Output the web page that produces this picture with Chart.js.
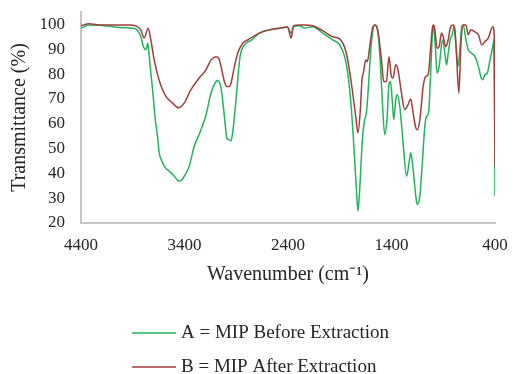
<!DOCTYPE html>
<html>
<head>
<meta charset="utf-8">
<script src="https://cdn.jsdelivr.net/npm/chart.js@4.4.1/dist/chart.umd.min.js"></script>
<style>
  html, body { margin: 0; padding: 0; background: #fff; }
  #wrap { width: 513px; height: 374px; }
</style>
</head>
<body>
<div id="wrap"><canvas id="ftirChart" width="513" height="374"></canvas></div>
<script>
// wavenumbers (cm-1) and transmittance (%)
var wnA = [
  4400, 4323, 4226, 4100, 4003, 3906, 3858, 3822, 3797, 3773,
  3754, 3735, 3709, 3683, 3661, 3645, 3613, 3580, 3548, 3500,
  3465, 3451, 3422, 3402, 3354, 3306, 3248, 3192, 3144, 3095,
  3080, 3047, 3025, 3005, 2993, 2971, 2952, 2935, 2908, 2886,
  2863, 2821, 2756, 2676, 2579, 2482, 2405, 2369, 2347, 2289,
  2240, 2163, 2066, 1969, 1901, 1853, 1821, 1788, 1756, 1737,
  1724, 1708, 1693, 1679, 1659, 1643, 1627, 1611, 1588, 1562,
  1530, 1507, 1488, 1465, 1443, 1424, 1410, 1391, 1378, 1359,
  1346, 1320, 1288, 1255, 1230, 1214, 1191, 1165, 1152, 1126,
  1100, 1078, 1061, 1042, 1023, 998, 978, 959, 940, 907,
  884, 868, 852, 829, 813, 797, 778, 758, 739, 722,
  707, 681, 658, 626, 594, 560, 537, 519, 497, 474,
  448, 422, 410, 400
];
var tA = [
  98.5, 99.8, 99.7, 99.1, 98.7, 98.5, 97.8, 95.1, 91.0, 89.8,
  92.4, 84.4, 74.0, 62.0, 55.0, 48.4, 44.4, 42.0, 40.9, 38.9,
  37.2, 36.9, 37.5, 38.9, 42.9, 50.9, 56.8, 63.5, 72.4, 77.0,
  77.4, 74.4, 67.0, 59.0, 54.3, 53.6, 53.0, 56.3, 67.0, 77.7,
  87.0, 91.8, 93.6, 96.5, 97.8, 98.5, 99.0, 96.5, 99.0, 99.5,
  98.5, 99.1, 96.5, 93.8, 91.8, 87.0, 80.0, 66.0, 45.6, 32.0,
  24.8, 33.0, 45.0, 55.0, 61.6, 64.3, 72.4, 83.0, 95.1, 99.8,
  96.5, 84.0, 68.4, 55.6, 62.0, 76.0, 77.0, 68.4, 61.6, 69.7,
  71.7, 67.0, 52.3, 38.9, 44.3, 48.3, 41.6, 30.8, 27.5, 30.8,
  45.6, 59.0, 63.0, 64.3, 79.0, 99.8, 92.0, 80.4, 83.0, 93.8,
  88.4, 83.7, 88.4, 94.5, 95.8, 99.1, 92.4, 83.0, 90.0, 99.1,
  99.8, 93.8, 89.8, 88.4, 87.0, 83.0, 79.0, 77.7, 79.7, 80.4,
  85.7, 91.0, 93.8, 30.8
];

var wnB = [
  4400, 4323, 4226, 4032, 3935, 3870, 3822, 3790, 3751, 3725,
  3693, 3645, 3580, 3516, 3458, 3402, 3338, 3257, 3192, 3144,
  3095, 3070, 3047, 3015, 2993, 2967, 2950, 2918, 2886, 2838,
  2789, 2676, 2579, 2482, 2405, 2369, 2347, 2289, 2240, 2163,
  2066, 1969, 1901, 1836, 1788, 1746, 1724, 1701, 1685, 1669,
  1649, 1633, 1611, 1579, 1556, 1530, 1497, 1475, 1449, 1424,
  1401, 1385, 1359, 1337, 1304, 1272, 1240, 1214, 1191, 1165,
  1149, 1126, 1094, 1071, 1046, 1023, 1003, 991, 981, 959,
  940, 917, 901, 875, 852, 829, 804, 787, 771, 749,
  729, 707, 681, 658, 635, 594, 560, 528, 497, 465,
  422, 407, 400
];
var tB = [
  99.5, 100.3, 99.8, 99.8, 99.8, 99.4, 97.8, 94.5, 98.5, 93.8,
  85.7, 77.5, 71.0, 68.4, 66.4, 68.4, 73.7, 78.5, 81.7, 85.7,
  87.0, 86.4, 83.0, 77.0, 75.0, 75.0, 76.4, 83.0, 88.4, 92.4,
  93.8, 96.5, 97.8, 98.5, 99.0, 94.5, 99.5, 99.8, 99.8, 99.5,
  97.5, 95.0, 94.2, 88.4, 76.4, 63.0, 56.3, 65.7, 77.7, 81.0,
  85.7, 85.0, 91.0, 99.1, 99.8, 97.0, 85.7, 77.0, 77.0, 87.0,
  79.0, 78.4, 83.7, 81.7, 72.4, 65.7, 67.7, 70.0, 64.3, 58.3,
  57.6, 61.6, 75.0, 79.0, 79.7, 89.8, 99.1, 99.8, 97.8, 90.4,
  91.0, 96.5, 95.1, 91.0, 93.8, 99.1, 99.8, 97.8, 87.0, 72.4,
  92.4, 99.8, 99.8, 95.8, 97.8, 97.0, 95.8, 91.8, 93.1, 94.5,
  99.1, 95.1, 42.9
];

var xTicks = [4400, 3400, 2400, 1400, 400];
var yTicks = [20, 30, 40, 50, 60, 70, 80, 90, 100];
var seriesLabels = ['A = MIP Before Extraction', 'B = MIP After Extraction'];
var seriesColors = ['#22b45c', '#a03e3c'];

var FONT = '"Liberation Serif", "Times New Roman", serif';
var TEXT = '#262626';

function toPoints(xs, ys) {
  return xs.map(function (x, i) { return { x: x, y: ys[i] }; });
}

// legend drawn as two stacked rows under the axis title
var stackedLegend = {
  id: 'stackedLegend',
  afterDraw: function (chart) {
    var ctx = chart.ctx;
    var sets = chart.data.datasets;
    ctx.save();
    ctx.font = '19px ' + FONT;
    var widest = 0;
    sets.forEach(function (d) { widest = Math.max(widest, ctx.measureText(d.label).width); });
    var lineLen = 44, gap = 5;
    var x0 = Math.round((chart.width - (lineLen + gap + widest)) / 2) + 4;
    sets.forEach(function (d, i) {
      var y = chart.chartArea.bottom + 110 + i * 34;
      ctx.strokeStyle = d.borderColor;
      ctx.lineWidth = 1.5;
      ctx.beginPath();
      ctx.moveTo(x0, y);
      ctx.lineTo(x0 + lineLen, y);
      ctx.stroke();
      ctx.fillStyle = TEXT;
      ctx.textBaseline = 'middle';
      ctx.textAlign = 'left';
      ctx.fillText(d.label, x0 + lineLen + gap, y);
    });
    ctx.restore();
  }
};

var ctx = document.getElementById('ftirChart').getContext('2d');
var chart = new Chart(ctx, {
  type: 'line',
  data: {
    datasets: [
      { label: seriesLabels[0], data: toPoints(wnA, tA), borderColor: seriesColors[0], borderWidth: 1.5,
        pointRadius: 0, cubicInterpolationMode: 'monotone', fill: false, order: 2 },
      { label: seriesLabels[1], data: toPoints(wnB, tB), borderColor: seriesColors[1], borderWidth: 1.5,
        pointRadius: 0, cubicInterpolationMode: 'monotone', fill: false, order: 1 }
    ]
  },
  options: {
    responsive: false,
    animation: false,
    layout: { padding: { top: 12, right: 18, left: 0, bottom: 87 } },
    plugins: { legend: { display: false }, tooltip: { enabled: false } },
    scales: {
      x: {
        type: 'linear',
        reverse: true,
        min: 400, max: 4400,
        afterBuildTicks: function (axis) { axis.ticks = xTicks.map(function (v) { return { value: v }; }); },
        afterFit: function (axis) {
          axis.height = 64;
          axis.paddingLeft = 0; axis.paddingRight = 0;
        },
        grid: { display: false, drawTicks: false },
        border: { display: true, color: '#c6c6c6', width: 2 },
        ticks: { color: TEXT, font: { family: FONT, size: 17 }, padding: 12, maxRotation: 0,
                 callback: function (v) { return String(v); } },
        title: { display: true, text: 'Wavenumber (cm\u207B\u00B9)', color: TEXT,
                 font: { family: FONT, size: 20 }, padding: { top: 0, bottom: 0 } }
      },
      y: {
        min: 20, max: 105,
        afterBuildTicks: function (axis) { axis.ticks = yTicks.map(function (v) { return { value: v }; }); },
        afterFit: function (axis) {
          axis.width = 81;
          axis.paddingTop = 0; axis.paddingBottom = 0;
        },
        grid: { display: false, drawTicks: false },
        border: { display: true, color: '#c6c6c6', width: 2 },
        ticks: { color: TEXT, font: { family: FONT, size: 17 }, padding: 16 },
        title: { display: true, text: 'Transmittance (%)', color: TEXT,
                 font: { family: FONT, size: 20 }, padding: { top: 8, bottom: 0 } }
      }
    }
  },
  plugins: [stackedLegend]
});
</script>
</body>
</html>
